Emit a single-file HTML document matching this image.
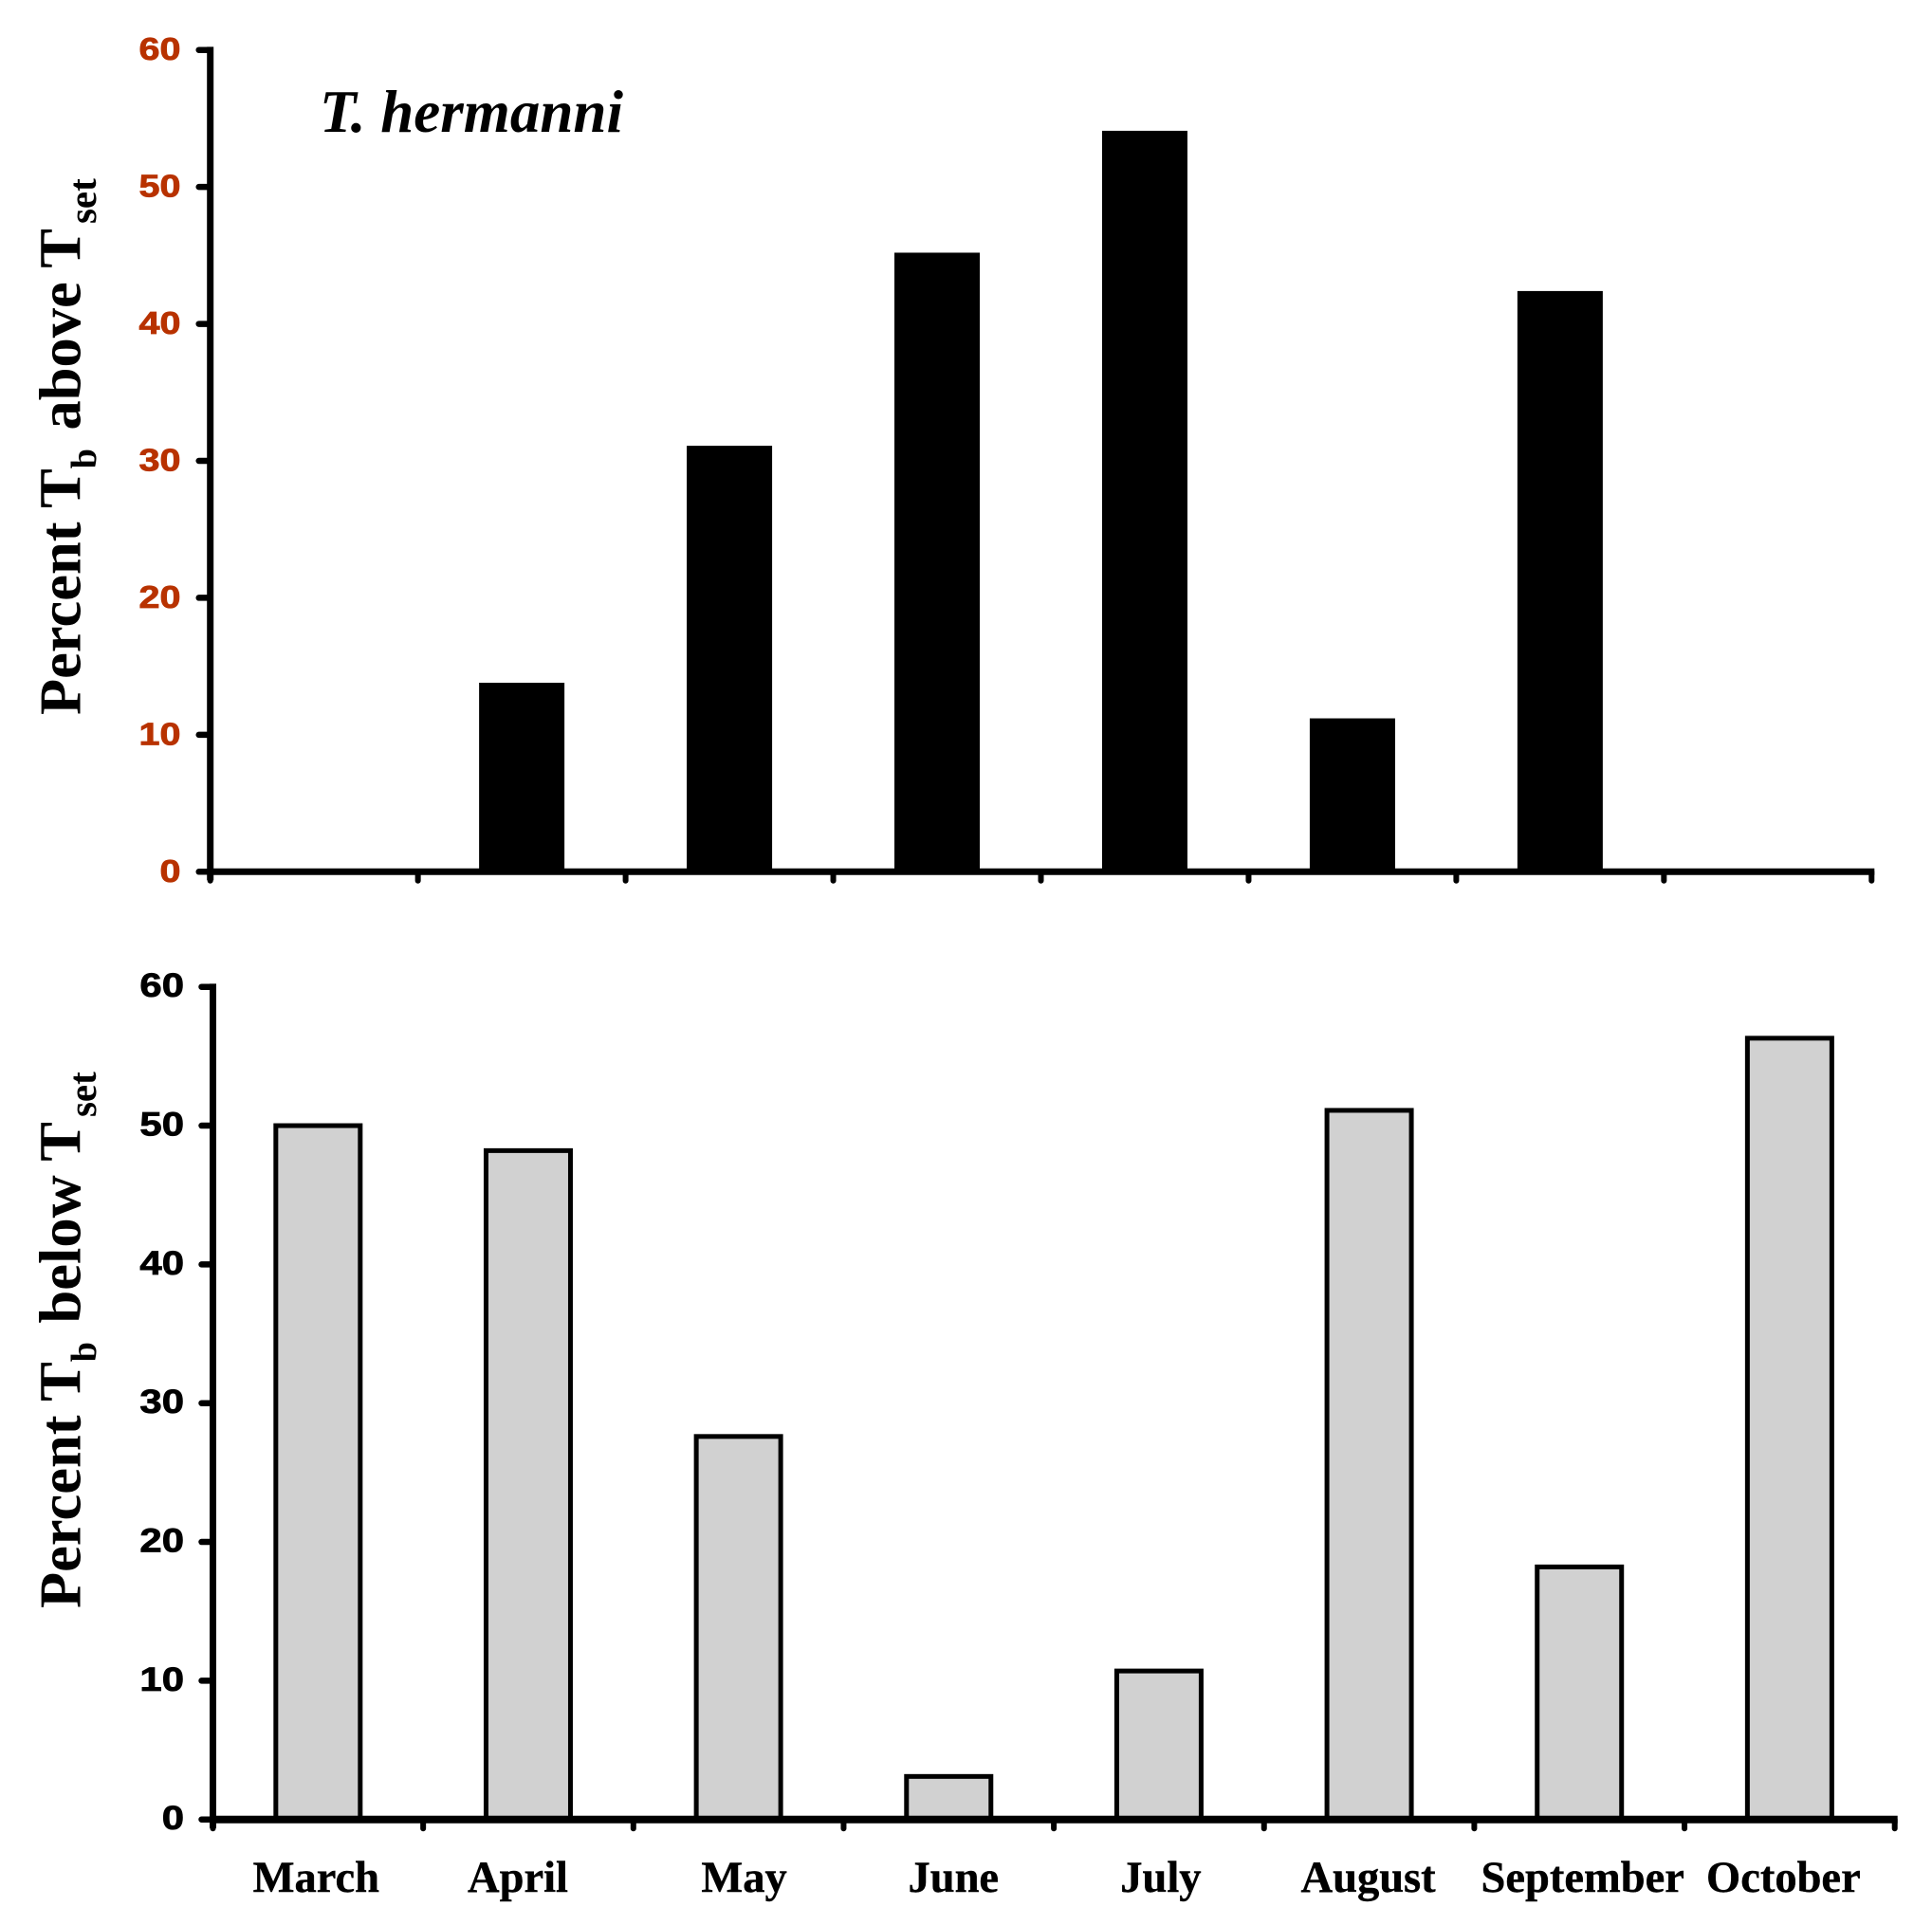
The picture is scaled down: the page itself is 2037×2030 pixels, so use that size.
<!DOCTYPE html>
<html>
<head>
<meta charset="utf-8">
<title>T. hermanni: percent Tb above and below Tset</title>
<style>
html,body{margin:0;padding:0;background:#fff;}
svg{display:block;}
text{white-space:pre;}
</style>
</head>
<body>
<svg id="chart" xmlns="http://www.w3.org/2000/svg" width="2037" height="2030" viewBox="0 0 2037 2030">
  <rect x="0" y="0" width="2037" height="2030" fill="#ffffff"/>
  <text x="337" y="139" font-family="'Liberation Serif',serif" font-weight="bold" font-style="italic" font-size="64" textLength="320" lengthAdjust="spacingAndGlyphs">T. hermanni</text>
  <text transform="translate(84.5,754) rotate(-90)" font-family="'Liberation Serif',serif" font-weight="bold" font-size="62.5">Percent T<tspan dy="16.5" font-size="38">b</tspan><tspan dy="-16.5" dx="4"> above T</tspan><tspan dy="16.5" dx="5" font-size="41">set</tspan></text>
  <text transform="translate(84.5,1696) rotate(-90)" font-family="'Liberation Serif',serif" font-weight="bold" font-size="62.5">Percent T<tspan dy="16.5" font-size="38">b</tspan><tspan dy="-16.5" dx="4"> below T</tspan><tspan dy="16.5" dx="5" font-size="41">set</tspan></text>
</svg>
<script>
var categories = ["March","April","May","June","July","August","September","October"];
var aboveValues = [0,13.8,31.1,45.2,54.1,11.2,42.4,0];
var belowValues = [50,48.2,27.6,3.1,10.7,51.1,18.2,56.3];
var yTickValues = [0,10,20,30,40,50,60];
var yTickLabels = ["0","10","20","30","40","50","60"];

var svg = document.getElementById('chart');
var NS = 'http://www.w3.org/2000/svg';

function make(tag, attrs, parent) {
  var node = document.createElementNS(NS, tag);
  for (var k in attrs) node.setAttribute(k, attrs[k]);
  (parent || svg).appendChild(node);
  return node;
}

function drawPanel(p) {
  var yMax = yTickValues[yTickValues.length - 1];
  var n = categories.length;
  function xScale(i) { return p.left + (p.right - p.left) * i / n; }
  function yScale(v) { return p.baseline - (p.baseline - p.top) * v / yMax; }

  var group = make('g', {});
  
  

  p.values.forEach(function (v, i) {
    var cx = xScale(i + 0.5);
    var bar = make('rect', {
      x: cx - p.barWidth / 2,
      y: yScale(v),
      width: p.barWidth,
      height: p.baseline - yScale(v),
      fill: p.barFill,
      stroke: p.barStroke,
      'stroke-width': p.barStrokeWidth
    }, group);
    
    
  });

  var yAxis = make('line', {
    x1: p.left, x2: p.left, y1: p.top - 3.3, y2: p.baseline + 9,
    stroke: '#000', 'stroke-width': p.axisWidth
  }, group);
  
  

  var xAxis = make('line', {
    x1: p.left, x2: p.right + 3, y1: p.baseline, y2: p.baseline,
    stroke: '#000', 'stroke-width': p.baselineWidth
  }, group);
  
  

  yTickValues.forEach(function (v, i) {
    var tick = make('line', {
      x1: p.left - 12, x2: p.left, y1: yScale(v), y2: yScale(v),
      stroke: '#000', 'stroke-width': 6.5, 'stroke-linecap': 'round'
    }, group);
    
    

    var label = make('text', {
      transform: 'translate(' + p.labelRight + ',' + (yScale(v) + 10.5) + ') scale(1.18,1)',
      'text-anchor': 'end',
      'font-family': "'Liberation Sans',sans-serif",
      'font-weight': 'bold',
      'font-size': p.labelSize,
      fill: p.labelColor,
      stroke: p.labelColor,
      'stroke-width': 0.8
    }, group);
    label.textContent = yTickLabels[i];
    
    
  });

  for (var i = 0; i <= n; i++) {
    var xTick = make('line', {
      x1: xScale(i), x2: xScale(i), y1: p.baseline, y2: p.baseline + 9.5,
      stroke: '#000', 'stroke-width': 6, 'stroke-linecap': 'round'
    }, group);
    
    
  }

  if (p.showCategories) {
    // hand-placed offsets from each band centre, as in the source figure
    var nudge = {March:-2, April:-11, May:6, June:5, July:2, August:-1, September:3.5, October:-6.5};
    categories.forEach(function (c, i) {
      var t = make('text', {
        x: xScale(i + 0.5) + (nudge[c] || 0),
        y: 1995,
        'text-anchor': 'middle',
        'font-family': "'Liberation Serif',serif",
        'font-weight': 'bold',
        'font-size': 46.5,
        stroke: '#000',
        'stroke-width': 0.4
      }, group);
      t.textContent = c;
      
      
    });
  }
}

drawPanel({
  name: 'above', values: aboveValues,
  left: 221.7, right: 1973.3, top: 52.7, baseline: 919.3,
  barWidth: 90, barFill: '#000', barStroke: 'none', barStrokeWidth: 0,
  axisWidth: 7, baselineWidth: 7,
  labelRight: 190.5, labelSize: 33.5, labelColor: '#b83200',
  showCategories: false
});

drawPanel({
  name: 'below', values: belowValues,
  left: 224.5, right: 1997.7, top: 1040.7, baseline: 1918.7,
  barWidth: 89, barFill: '#d1d1d1', barStroke: '#000', barStrokeWidth: 5,
  axisWidth: 7, baselineWidth: 8,
  labelRight: 194, labelSize: 35.5, labelColor: '#000',
  showCategories: true
});
</script>
</body>
</html>
